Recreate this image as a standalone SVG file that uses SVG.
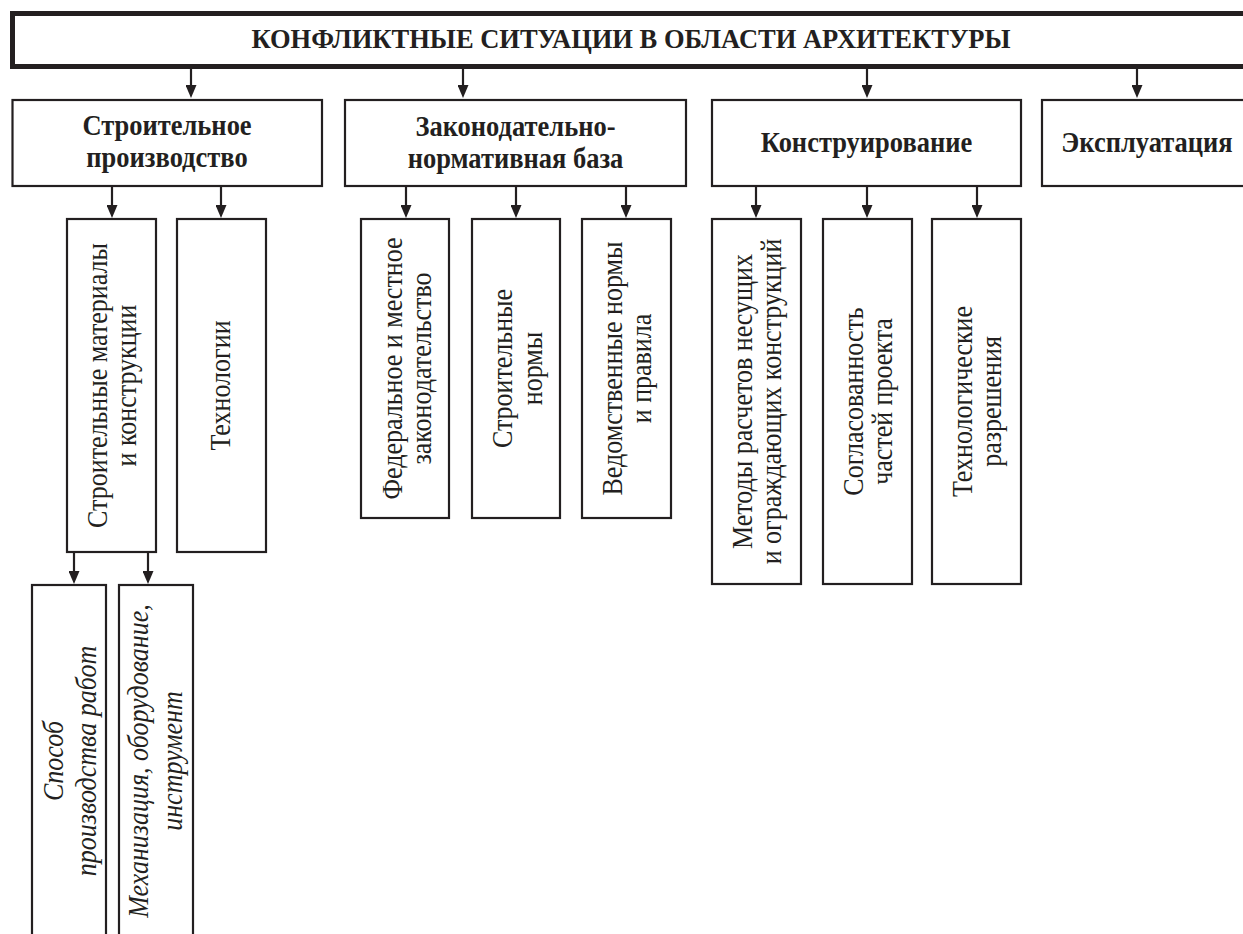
<svg xmlns="http://www.w3.org/2000/svg" width="1243" height="934" viewBox="0 0 1243 934">
<style>
.bx{fill:#fff;stroke:#231f20;stroke-width:2.2}
.hd{fill:#fff;stroke:#231f20;stroke-width:5}
.t{font-family:"Liberation Serif","Times New Roman",serif;fill:#231f20;text-anchor:middle}
.b{font-weight:bold;font-size:26.5px}
.r{font-size:26px}
.i{font-size:26px;font-style:italic}
.ttl{font-weight:bold;font-size:26.5px}
.c line{stroke:#231f20;stroke-width:2.2;marker-end:url(#ah)}
</style>
<defs>
<marker id="ah" viewBox="0 0 13 11" refX="5" refY="5.5" markerWidth="13" markerHeight="11" orient="auto" markerUnits="userSpaceOnUse">
<path d="M0,0 L13,5.5 L0,11 z" fill="#231f20"/>
</marker>
</defs>
<rect width="1243" height="934" fill="#fff"/>
<g id="connectors" class="c">
<line x1="191" y1="69" x2="191" y2="90"/>
<line x1="463" y1="69" x2="463" y2="90"/>
<line x1="867" y1="69" x2="867" y2="90"/>
<line x1="1137" y1="69" x2="1137" y2="90"/>
<line x1="112" y1="187" x2="112" y2="210"/>
<line x1="221" y1="187" x2="221" y2="210"/>
<line x1="406" y1="187" x2="406" y2="210"/>
<line x1="516" y1="187" x2="516" y2="210"/>
<line x1="626" y1="187" x2="626" y2="210"/>
<line x1="756" y1="187" x2="756" y2="210"/>
<line x1="867" y1="187" x2="867" y2="210"/>
<line x1="977" y1="187" x2="977" y2="210"/>
<line x1="74" y1="553" x2="74" y2="576"/>
<line x1="148" y1="553" x2="148" y2="576"/>
</g>
<g id="root">
<rect class="hd" x="12.5" y="13.5" width="1240" height="53"/>
<text class="t ttl" x="631" y="48">КОНФЛИКТНЫЕ СИТУАЦИИ В ОБЛАСТИ АРХИТЕКТУРЫ</text>
</g>
<g id="n-stroit-proizv">
<rect class="bx" x="12.5" y="100" width="309.5" height="86"/>
<text class="t b" transform="translate(167,135) scale(1,1.1)">Строительное</text>
<text class="t b" transform="translate(167,167) scale(1,1.1)">производство</text>
</g>
<g id="n-zakon">
<rect class="bx" x="345" y="100" width="341" height="86"/>
<text class="t b" transform="translate(515.5,136) scale(1,1.1)">Законодательно-</text>
<text class="t b" transform="translate(515.5,168) scale(1,1.1)">нормативная база</text>
</g>
<g id="n-konstr">
<rect class="bx" x="712" y="100" width="309" height="86"/>
<text class="t b" transform="translate(866.5,152) scale(1,1.1)">Конструирование</text>
</g>
<g id="n-ekspl">
<rect class="bx" x="1042" y="100" width="212" height="86"/>
<text class="t b" transform="translate(1147,152) scale(1,1.1)">Эксплуатация</text>
</g>
<g id="n-materialy">
<rect class="bx" x="67" y="219" width="89" height="333"/>
<g transform="translate(111.5,385.5) rotate(-90)">
<text class="t r" transform="translate(0,-5) scale(1,1.1)">Строительные материалы</text>
<text class="t r" transform="translate(0,24) scale(1,1.1)">и конструкции</text>
</g>
</g>
<g id="n-tehnologii">
<rect class="bx" x="177" y="219" width="89" height="333"/>
<g transform="translate(221.5,385.5) rotate(-90)">
<text class="t r" transform="translate(0,8) scale(1,1.1)">Технологии</text>
</g>
</g>
<g id="n-federal">
<rect class="bx" x="361" y="219" width="88" height="299"/>
<g transform="translate(405,368.5) rotate(-90)">
<text class="t r" transform="translate(0,-3) scale(1,1.1)">Федеральное и местное</text>
<text class="t r" transform="translate(0,26) scale(1,1.1)">законодательство</text>
</g>
</g>
<g id="n-stroit-normy">
<rect class="bx" x="472" y="219" width="88" height="299"/>
<g transform="translate(516,368.5) rotate(-90)">
<text class="t r" transform="translate(0,-4) scale(1,1.1)">Строительные</text>
<text class="t r" transform="translate(0,26) scale(1,1.1)">нормы</text>
</g>
</g>
<g id="n-vedomstv">
<rect class="bx" x="582" y="219" width="89" height="299"/>
<g transform="translate(626.5,368.5) rotate(-90)">
<text class="t r" transform="translate(0,-5) scale(1,1.1)">Ведомственные нормы</text>
<text class="t r" transform="translate(0,24) scale(1,1.1)">и правила</text>
</g>
</g>
<g id="n-metody">
<rect class="bx" x="712" y="219" width="89" height="365"/>
<g transform="translate(756.5,401.5) rotate(-90)">
<text class="t r" transform="translate(0,-5) scale(1,1.1)">Методы расчетов несущих</text>
<text class="t r" transform="translate(0,24) scale(1,1.1)">и ограждающих конструкций</text>
</g>
</g>
<g id="n-soglas">
<rect class="bx" x="823" y="219" width="89" height="365"/>
<g transform="translate(867.5,401.5) rotate(-90)">
<text class="t r" transform="translate(0,-5) scale(1,1.1)">Согласованность</text>
<text class="t r" transform="translate(0,24) scale(1,1.1)">частей проекта</text>
</g>
</g>
<g id="n-tehn-razr">
<rect class="bx" x="932" y="219" width="89" height="365"/>
<g transform="translate(976.5,401.5) rotate(-90)">
<text class="t r" transform="translate(0,-5) scale(1,1.1)">Технологические</text>
<text class="t r" transform="translate(0,24) scale(1,1.1)">разрешения</text>
</g>
</g>
<g id="n-sposob">
<rect class="bx" x="32" y="585" width="74" height="355"/>
<g transform="translate(69,761) rotate(-90)">
<text class="t i" transform="translate(0,-6) scale(1,1.1)">Способ</text>
<text class="t i" transform="translate(0,27) scale(1,1.1)">производства работ</text>
</g>
</g>
<g id="n-mehaniz">
<rect class="bx" x="119" y="585" width="74" height="355"/>
<g transform="translate(156,761) rotate(-90)">
<text class="t i" transform="translate(0,-8) scale(1,1.1)">Механизация, оборудование,</text>
<text class="t i" transform="translate(0,26) scale(1,1.1)">инструмент</text>
</g>
</g>
</svg>
